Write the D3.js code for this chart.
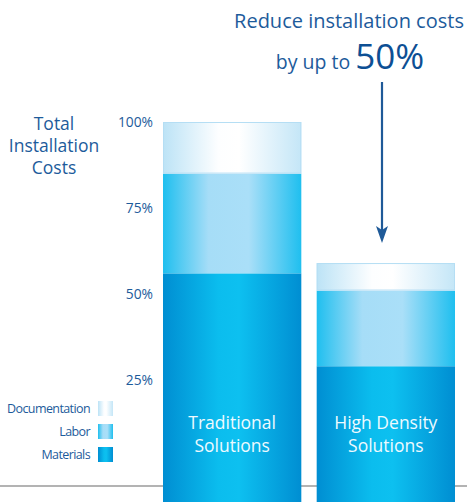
<!DOCTYPE html>
<html>
<head>
<meta charset="utf-8">
<script src="https://cdn.jsdelivr.net/npm/d3@7"></script>
<style>
  body { margin: 0; background: #fff; }
  text { font-family: "Open Sans", "Noto Sans", sans-serif; }
</style>
</head>
<body>
<script>
var categories = ["Traditional Solutions", "High Density Solutions"];
var seriesNames = ["Materials", "Labor", "Documentation"];
var materials = [56, 29];
var labor = [29, 22];
var documentation = [15, 8];
var tickValues = [25, 50, 75, 100];

var W = 467, H = 502;
var ink = "#1d5b9b";

var svg = d3.select("body").append("svg")
    .attr("width", W).attr("height", H);

// gradients, dark at the edges, light in the middle
var grads = {
  Materials: ["#008ed2", "#0bbdee", "#0dc0f0", "#008ed2"],
  Labor: ["#1fbfef", "#a6ddf7", "#aadff8", "#1fbfef"],
  Documentation: ["#bce3f6", "#fdfeff", "#ffffff", "#c4e6f7"]
};
var defs = svg.append("defs");
seriesNames.forEach(function (s) {
  var g = defs.append("linearGradient").attr("id", "g-" + s)
      .attr("x1", 0).attr("x2", 1).attr("y1", 0).attr("y2", 0);
  var offs = s == "Labor" ? [0, 0.33, 0.62, 1] : [0, 0.4, 0.55, 1];
  grads[s].forEach(function (c, i) {
    g.append("stop").attr("offset", offs[i]).attr("stop-color", c);
  });
});

var x = d3.scaleBand().domain(categories).range([163, 455]).paddingInner(0.1);
var y = d3.scaleLinear().domain([0, 100]).range([466, 122]);

// baseline
svg.append("line")
    .attr("x1", 0).attr("x2", W).attr("y1", 486).attr("y2", 486)
    .attr("stroke", "#9a9a9a").attr("stroke-width", 1.5);

// stack data
var rows = categories.map(function (c, i) {
  return { cat: c, Materials: materials[i], Labor: labor[i], Documentation: documentation[i] };
});
var stacked = d3.stack().keys(seriesNames)(rows);

var layers = svg.selectAll("g.layer")
    .data(stacked)
    .enter().append("g")
    .attr("class", "layer")
    .attr("fill", function (d) { return "url(#g-" + d.key + ")"; });

layers.selectAll("rect")
    .data(function (d) { return d; })
    .enter().append("rect")
    .attr("x", function (d) { return x(d.data.cat); })
    .attr("width", x.bandwidth())
    .attr("y", function (d) { return y(d[1]); })
    .attr("height", function (d) {
      // bottom layer runs past the baseline to the page edge
      return d[0] === 0 ? H - y(d[1]) : y(d[0]) - y(d[1]);
    });

// thin light outline on the documentation cap
svg.selectAll("rect.cap")
    .data(stacked[2])
    .enter().append("rect")
    .attr("class", "cap")
    .attr("x", function (d) { return x(d.data.cat) + 0.5; })
    .attr("width", x.bandwidth() - 1)
    .attr("y", function (d) { return y(d[1]) + 0.5; })
    .attr("height", function (d) { return y(d[0]) - y(d[1]) - 1; })
    .attr("fill", "none")
    .attr("stroke", "#b5def4").attr("stroke-width", 1);

// category labels inside bars
svg.selectAll("text.cat")
    .data(categories)
    .enter().append("text")
    .attr("class", "cat")
    .attr("x", function (d) { return x(d) + x.bandwidth() / 2; })
    .attr("y", 429)
    .attr("text-anchor", "middle")
    .attr("fill", "#eefaff")
    .attr("font-size", "17.5px")
    .each(function (d) {
      var words = d.split(" ");
      var l1 = words.slice(0, words.length - 1).join(" ");
      var l2 = words[words.length - 1];
      var t = d3.select(this);
      t.append("tspan").attr("x", x(d) + x.bandwidth() / 2).text(l1);
      t.append("tspan").attr("x", x(d) + x.bandwidth() / 2).attr("dy", 23).text(l2);
    });

// y tick labels
svg.selectAll("text.tick")
    .data(tickValues)
    .enter().append("text")
    .attr("class", "tick")
    .attr("x", 153)
    .attr("y", function (d) { return y(d) + 5; })
    .attr("text-anchor", "end")
    .attr("fill", ink)
    .attr("font-size", "13.8px")
    .text(function (d) { return d + "%"; });

// axis title
var yt = svg.append("text")
    .attr("x", 54).attr("y", 130)
    .attr("text-anchor", "middle")
    .attr("fill", ink)
    .attr("font-size", "17.5px");
["Total", "Installation", "Costs"].forEach(function (s, i) {
  yt.append("tspan").attr("x", 54).attr("dy", i === 0 ? 0 : 22).text(s);
});

// legend
var legendOrder = ["Documentation", "Labor", "Materials"];
var leg = svg.selectAll("g.leg")
    .data(legendOrder)
    .enter().append("g")
    .attr("class", "leg")
    .attr("transform", function (d, i) { return "translate(0," + (401 + i * 23) + ")"; });
leg.append("rect")
    .attr("x", 98).attr("width", 15).attr("height", 15)
    .attr("fill", function (d) { return "url(#g-" + d + ")"; });
leg.append("text")
    .attr("x", 90).attr("y", 12)
    .attr("text-anchor", "end")
    .attr("fill", ink)
    .attr("font-size", "12.5px")
    .attr("letter-spacing", "-0.6")
    .text(function (d) { return d; });

// headline
svg.append("text")
    .attr("x", 349).attr("y", 28)
    .attr("text-anchor", "middle")
    .attr("fill", ink)
    .attr("font-size", "20px")
    .text("Reduce installation costs");
var h2 = svg.append("text")
    .attr("x", 350).attr("y", 69)
    .attr("text-anchor", "middle")
    .attr("fill", ink);
h2.append("tspan").attr("font-size", "19.5px").text("by up to ");
h2.append("tspan").attr("font-size", "35px").attr("fill", "#0d4f94").text("50%");

// arrow
var ax = 382;
svg.append("line")
    .attr("x1", ax).attr("x2", ax).attr("y1", 82).attr("y2", 232)
    .attr("stroke", "#1f5a98").attr("stroke-width", 2.2);
svg.append("path")
    .attr("d", "M" + (ax - 6) + ",226 L" + ax + ",230 L" + (ax + 6) + ",226 L" + ax + ",243 Z")
    .attr("fill", "#1f5a98");
</script>
</body>
</html>
